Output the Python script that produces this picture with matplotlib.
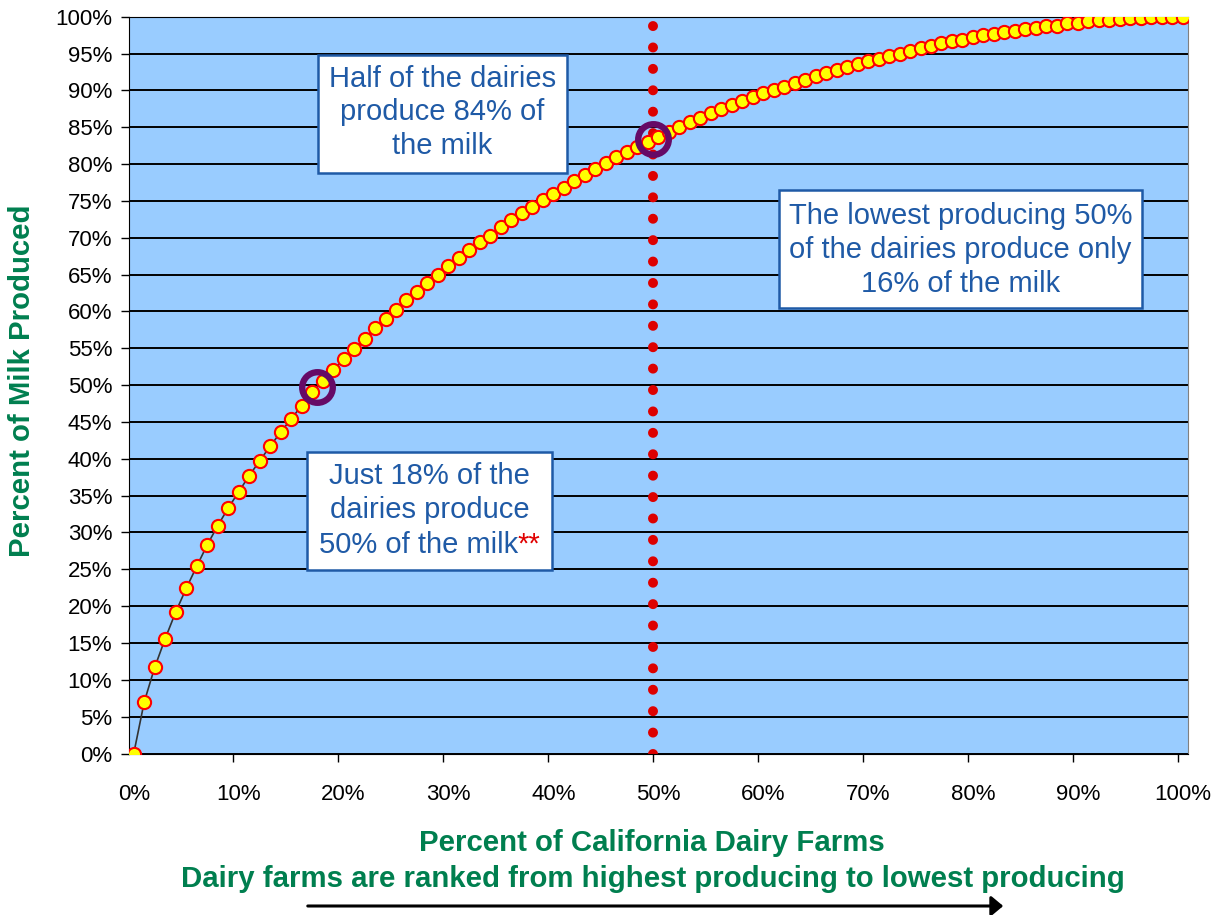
import matplotlib.pyplot as plt
from matplotlib.patches import Rectangle, FancyArrowPatch

plt.rcParams["font.family"] = ["Liberation Sans", "DejaVu Sans"]

# dairies ranked highest -> lowest, cumulative share of milk (%)
farm_pct = list(range(101))
milk_pct = [
    0.0, 7.0, 11.7, 15.6, 19.2, 22.4, 25.4, 28.3, 30.9, 33.3,
    35.5, 37.7, 39.7, 41.7, 43.6, 45.4, 47.2, 49.0, 50.5, 52.0,
    53.5, 54.9, 56.3, 57.7, 59.0, 60.2, 61.5, 62.7, 63.8, 65.0,
    66.2, 67.3, 68.3, 69.4, 70.3, 71.4, 72.4, 73.3, 74.2, 75.1,
    76.0, 76.8, 77.7, 78.5, 79.3, 80.1, 80.9, 81.6, 82.3, 83.0,
    83.7, 84.4, 85.0, 85.7, 86.3, 86.9, 87.5, 88.0, 88.6, 89.1,
    89.6, 90.1, 90.5, 91.0, 91.4, 91.9, 92.3, 92.7, 93.2, 93.6,
    94.0, 94.3, 94.7, 95.0, 95.4, 95.7, 96.0, 96.4, 96.7, 96.9,
    97.2, 97.5, 97.7, 97.9, 98.1, 98.3, 98.5, 98.7, 98.8, 99.1,
    99.2, 99.4, 99.5, 99.6, 99.7, 99.8, 99.85, 99.9, 99.95, 100.0,
    100.0,
]
highlight_x = [17.5, 49.5]
highlight_y = [49.7, 83.4]
split_x = 49.5

y_ticks = list(range(0, 101, 5))
x_ticks = list(range(0, 101, 10))

GREEN = "#007F4F"
BLUE = "#1F5AA6"
W, H = 1220, 915
BOX_FS = 21
LS = 1.27

fig = plt.figure(figsize=(W / 100, H / 100), dpi=100)
ax = fig.add_axes([128.5 / W, 1 - 753.5 / H, (1188 - 128.5) / W, (753.5 - 16.7) / H])
ax.set_facecolor("#99CCFF")
ax.set_xlim(-0.5, 100.5)
ax.set_ylim(0, 100)

ax.set_yticks(y_ticks)
ax.set_yticklabels([f"{v}%" for v in y_ticks])
ax.set_xticks(x_ticks)
ax.set_xticklabels([f"{v}%" for v in x_ticks])
ax.set_xticks([v - 0.5 for v in x_ticks[1:]], minor=True)
ax.tick_params(axis="y", length=5.8, width=1, color="black", pad=6, labelsize=16)
ax.tick_params(axis="x", which="major", length=0, pad=22, labelsize=16)
ax.tick_params(axis="x", which="minor", length=5.8, width=1, color="black")

ax.set_axisbelow(True)
ax.yaxis.grid(True, color="black", lw=1.4)
for side in ["left", "bottom", "top"]:
    ax.spines[side].set_color("black")
ax.spines["right"].set_color("#808080")

# dividing line at half the dairies
ax.plot([split_x, split_x], [0, 100], color="#DD0000", lw=7.2,
        ls=(0, (0.001, 2.14)), dash_capstyle="round", zorder=2)

ax.plot(farm_pct, milk_pct, color="#333333", lw=1.2, zorder=3)
ax.plot(farm_pct, milk_pct, ls="none", marker="o", ms=9.5, mfc="#FFFF00",
        mec="#FF0000", mew=1.5, zorder=4)

ax.plot(highlight_x, highlight_y, ls="none", marker="o", ms=22, mfc="none",
        mec="#660A66", mew=4.6, zorder=5)

boxes = [
    (17.56, 78.79, 41.30, 94.80, "Half of the dairies\nproduce 84% of\nthe milk", 87.0),
    (61.51, 60.47, 96.12, 76.48, "The lowest producing 50%\nof the dairies produce only\n16% of the milk", 68.3),
    (16.52, 24.93, 39.86, 40.94, "Just 18% of the\ndairies produce", 35.4),
]
for x0, y0, x1, y1, label, yc in boxes:
    ax.add_patch(Rectangle((x0, y0), x1 - x0, y1 - y0, facecolor="white",
                           edgecolor=BLUE, lw=1.8, zorder=6))
    ax.text((x0 + x1) / 2, yc, label, ha="center", va="center",
            fontsize=BOX_FS, color=BLUE, linespacing=LS, zorder=7)

# last line of the third box, with red footnote stars after it
renderer = fig.canvas.get_renderer()
probe = ax.text(0, 0, "**", fontsize=BOX_FS)
star_w = probe.get_window_extent(renderer).width * 72 / fig.dpi
probe.remove()
x3 = (boxes[2][0] + boxes[2][2]) / 2
last = ax.annotate("50% of the milk", xy=(x3, 28.3), xytext=(-star_w / 2, 0),
                   textcoords="offset points", ha="center", va="center",
                   fontsize=BOX_FS, color=BLUE, zorder=7)
ax.annotate("**", xy=(1, 0), xycoords=last, ha="left", va="bottom",
            fontsize=BOX_FS, color="#E00000", zorder=8)

fig.text(22.5 / W, 1 - 381 / H, "Percent of Milk Produced", rotation=90,
         ha="center", va="center", fontsize=21.2, fontweight="bold", color=GREEN)
fig.text(652 / W, 1 - 843 / H, "Percent of California Dairy Farms",
         ha="center", va="center", fontsize=21.2, fontweight="bold", color=GREEN)
fig.text(653 / W, 1 - 879 / H,
         "Dairy farms are ranked from highest producing to lowest producing",
         ha="center", va="center", fontsize=21.2, fontweight="bold", color=GREEN)

fig.add_artist(FancyArrowPatch(
    (305 / W, 1 - 906 / H), (1006 / W, 1 - 906 / H), transform=fig.transFigure,
    arrowstyle="-|>,head_length=0.6,head_width=0.5", mutation_scale=12,
    lw=2.2, color="black"))

fig.savefig("out.png", dpi=100)
